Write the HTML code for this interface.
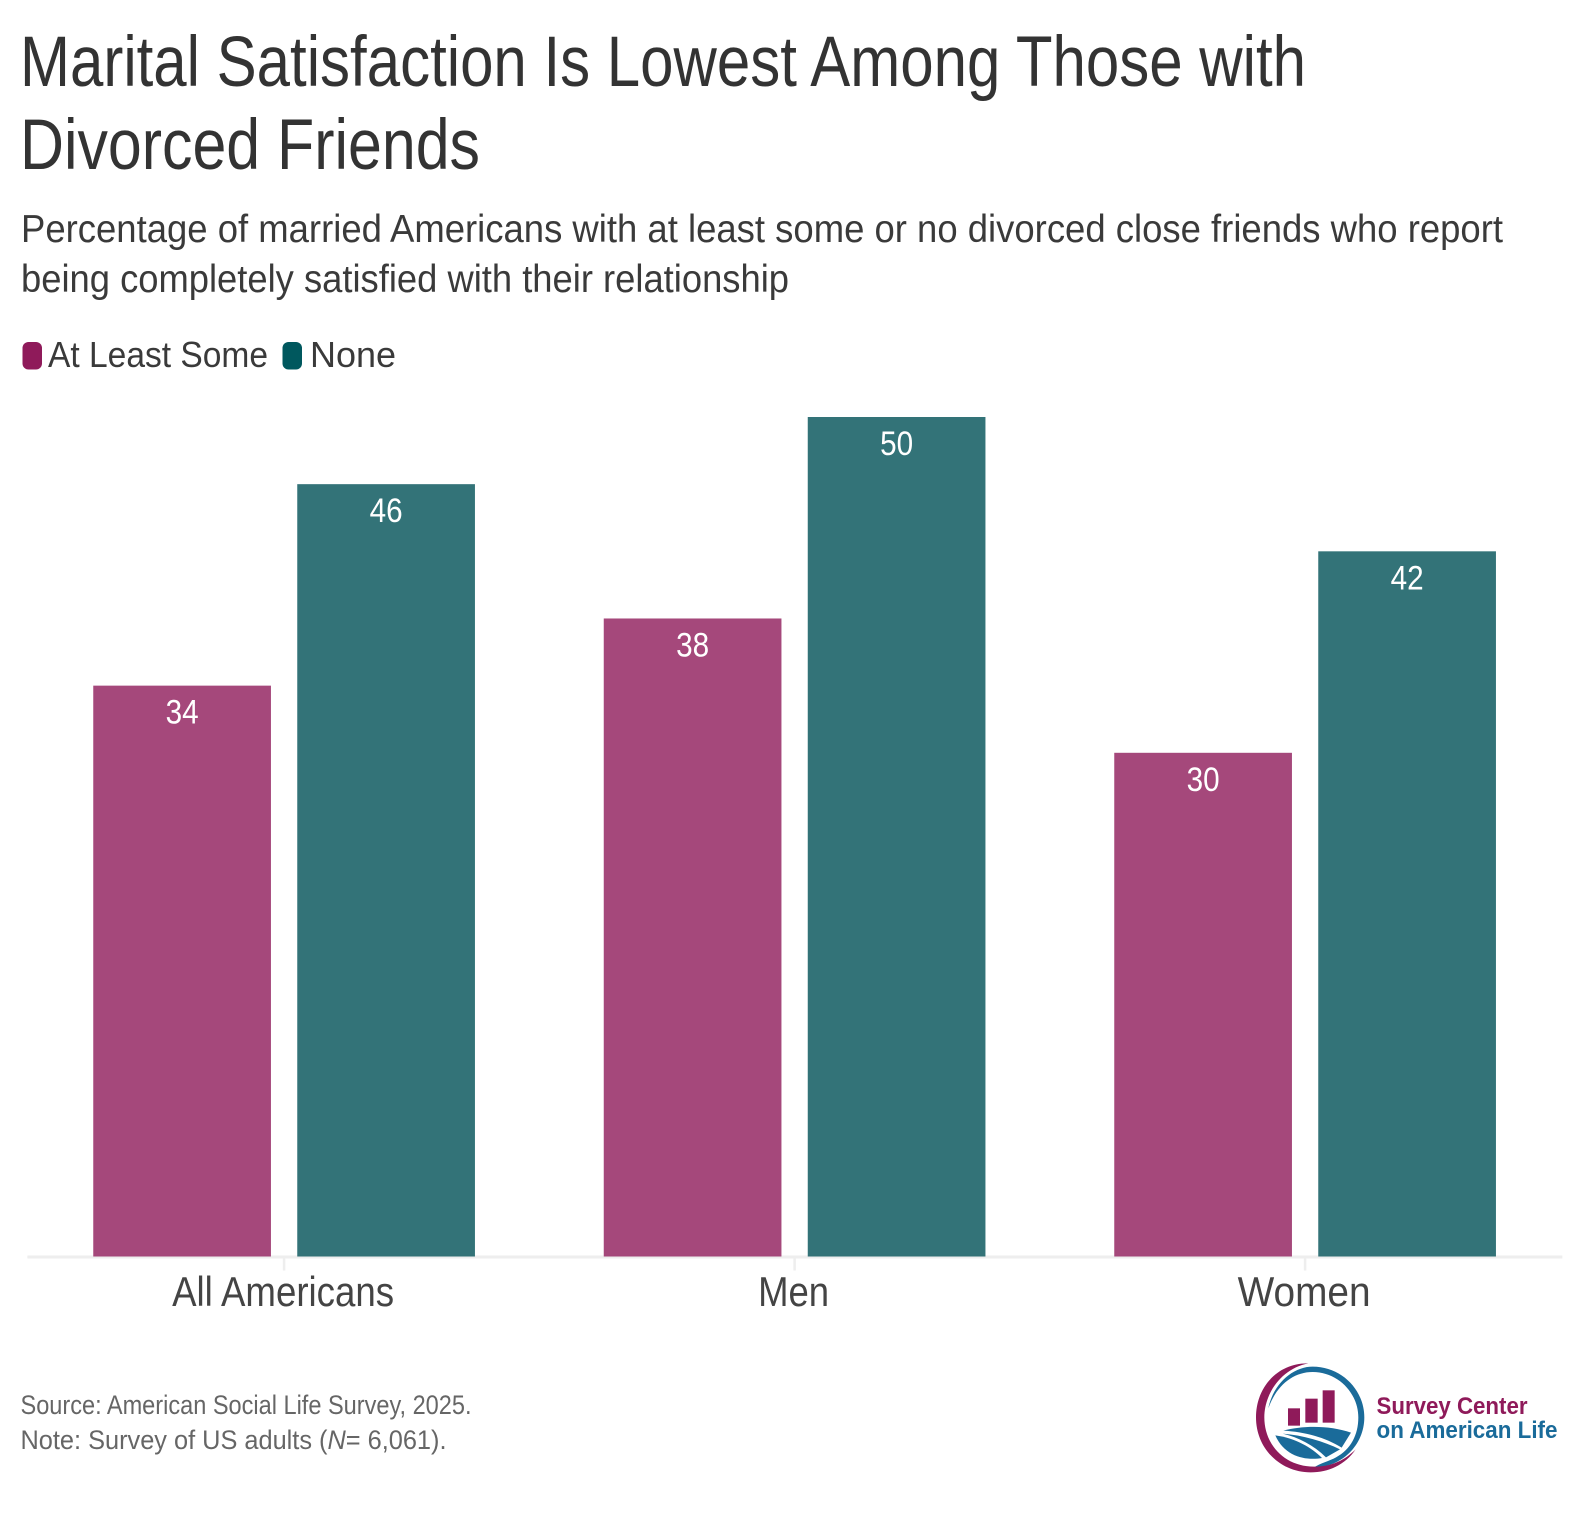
<!DOCTYPE html>
<html lang="en">
<head>
<meta charset="utf-8">
<title>Marital Satisfaction Is Lowest Among Those with Divorced Friends</title>
<style>
html,body{margin:0;padding:0;background:#fff;}
svg{display:block;font-family:"Liberation Sans",sans-serif;}
</style>
</head>
<body>
<svg id="chart" xmlns="http://www.w3.org/2000/svg" width="1588" height="1520" viewBox="0 0 1588 1520">
  <rect x="0" y="0" width="1588" height="1520" fill="#fff"/>

  <text x="20" y="86" font-size="71" fill="#333" textLength="1286" lengthAdjust="spacingAndGlyphs">Marital Satisfaction Is Lowest Among Those with</text>
  <text x="20" y="169" font-size="71" fill="#333" textLength="460" lengthAdjust="spacingAndGlyphs">Divorced Friends</text>

  <text x="21" y="242" font-size="39" fill="#3a3a3a" textLength="1482" lengthAdjust="spacingAndGlyphs">Percentage of married Americans with at least some or no divorced close friends who report</text>
  <text x="21" y="292" font-size="39" fill="#3a3a3a" textLength="768" lengthAdjust="spacingAndGlyphs">being completely satisfied with their relationship</text>

  <g>
    <rect x="22.5" y="342" width="19.5" height="27.5" rx="6" fill="#8f1a5a"/>
    <text x="48" y="367" font-size="36" fill="#3a3a3a" textLength="220" lengthAdjust="spacingAndGlyphs">At Least Some</text>
    <rect x="282.5" y="342" width="19.5" height="27.5" rx="6" fill="#00585e"/>
    <text x="310" y="367" font-size="36" fill="#3a3a3a" textLength="86" lengthAdjust="spacingAndGlyphs">None</text>
  </g>

  <g id="plot"></g>

  <text x="20.5" y="1414" font-size="27" fill="#666" textLength="451" lengthAdjust="spacingAndGlyphs">Source: American Social Life Survey, 2025.</text>
  <text x="20.5" y="1449" font-size="27" fill="#666" textLength="426" lengthAdjust="spacingAndGlyphs">Note: Survey of US adults (<tspan font-style="italic">N</tspan>= 6,061).</text>

  <g>
    <g transform="translate(1240,1360) scale(0.3333)">
      <path fill="#1a6b9a" d="M85,145 C100,70 160,20 218,20 C305,20 373,90 373,172 C373,255 305,322 222,322 C240,310 268,303 288,292 C332,268 355,225 355,172 C355,100 295,36 218,36 C160,36 110,75 85,145 Z"/>
      <path fill="#8f1a5a" d="M205,10 C115,8 48,80 48,172 C48,265 120,337 212,337 C265,337 315,315 347,268 C315,300 275,320 222,320 C135,320 73,255 73,172 C73,100 125,25 205,10 Z"/>
      <rect x="144" y="145" width="36" height="52" fill="#8f1a5a"/>
      <rect x="196" y="116" width="37" height="72" fill="#8f1a5a"/>
      <rect x="248" y="91" width="36" height="97" fill="#8f1a5a"/>
      <path fill="#1a6b9a" d="M130,212 C190,196 270,196 333,218 L305,263 C255,232 195,216 130,212 Z"/>
      <path fill="#1a6b9a" d="M128,221 C190,226 250,244 300,268 L258,292 C220,255 175,232 128,221 Z"/>
      <path fill="#1a6b9a" d="M106,226 C165,234 215,262 246,294 C200,302 135,292 106,226 Z"/>
    </g>
    <text x="1376.5" y="1414" font-size="24" font-weight="bold" fill="#8f1a5a" textLength="151" lengthAdjust="spacingAndGlyphs">Survey Center</text>
    <text x="1376.5" y="1438" font-size="24" font-weight="bold" fill="#1a6b9a" textLength="181" lengthAdjust="spacingAndGlyphs">on American Life</text>
  </g>
</svg>

<script>
const categories = ["All Americans", "Men", "Women"];
const seriesNames = ["At Least Some", "None"];
const atLeastSomeValues = [34, 38, 30];
const noneValues = [46, 50, 42];

const seriesValues = [atLeastSomeValues, noneValues];
const seriesColors = ["#8f1a5a", "#005056"];
const categoryLabelWidths = [222, 71, 133];

const NS = "http://www.w3.org/2000/svg";
const plot = document.getElementById("plot");
const baselineY = 1256.5;
const pxPerUnit = 16.79;
const firstGroupCenter = 284.1;
const groupStep = 510.5;
const barWidth = 177.7;
const barGap = 26.3;

function yScale(v) { return baselineY - v * pxPerUnit; }
function xCenter(i) { return firstGroupCenter + i * groupStep; }
function xBar(i, s) {
  return xCenter(i) + (s === 0 ? -(barGap / 2 + barWidth) : barGap / 2);
}

const axisLine = document.createElementNS(NS, "line");


axisLine.setAttribute("x1", xCenter(0) - groupStep / 2 - 1.5);
axisLine.setAttribute("x2", xCenter(categories.length - 1) + groupStep / 2 + 2);
axisLine.setAttribute("y1", baselineY + 0.5);
axisLine.setAttribute("y2", baselineY + 0.5);
axisLine.setAttribute("stroke", "#eeeeee");
axisLine.setAttribute("stroke-width", "3");
plot.appendChild(axisLine);

categories.forEach(function (cat, i) {
  const tick = document.createElementNS(NS, "line");
  
  
  tick.setAttribute("x1", xCenter(i));
  tick.setAttribute("x2", xCenter(i));
  tick.setAttribute("y1", baselineY);
  tick.setAttribute("y2", baselineY + 14);
  tick.setAttribute("stroke", "#eeeeee");
  tick.setAttribute("stroke-width", "2.5");
  plot.appendChild(tick);

  const label = document.createElementNS(NS, "text");
  
  
  label.setAttribute("x", xCenter(i) - 1);
  label.setAttribute("y", 1306);
  label.setAttribute("text-anchor", "middle");
  label.setAttribute("font-size", "42");
  label.setAttribute("fill", "#444");
  label.setAttribute("textLength", categoryLabelWidths[i]);
  label.setAttribute("lengthAdjust", "spacingAndGlyphs");
  label.textContent = cat;
  plot.appendChild(label);

  seriesValues.forEach(function (values, s) {
    const v = values[i];
    const bar = document.createElementNS(NS, "rect");
    
    
    bar.setAttribute("x", xBar(i, s));
    bar.setAttribute("y", yScale(v));
    bar.setAttribute("width", barWidth);
    bar.setAttribute("height", baselineY - yScale(v));
    bar.setAttribute("fill", seriesColors[s]);
    bar.setAttribute("fill-opacity", "0.8");
    const tip = document.createElementNS(NS, "title");
    tip.textContent = cat + " – " + seriesNames[s] + ": " + v;
    bar.appendChild(tip);
    plot.appendChild(bar);

    const valueLabel = document.createElementNS(NS, "text");
    
    
    valueLabel.setAttribute("x", xBar(i, s) + barWidth / 2);
    valueLabel.setAttribute("y", yScale(v) + 38);
    valueLabel.setAttribute("text-anchor", "middle");
    valueLabel.setAttribute("font-size", "34");
    valueLabel.setAttribute("fill", "#fff");
    valueLabel.setAttribute("textLength", "33");
    valueLabel.setAttribute("lengthAdjust", "spacingAndGlyphs");
    valueLabel.textContent = String(v);
    plot.appendChild(valueLabel);
  });
});
</script>
</body>
</html>
